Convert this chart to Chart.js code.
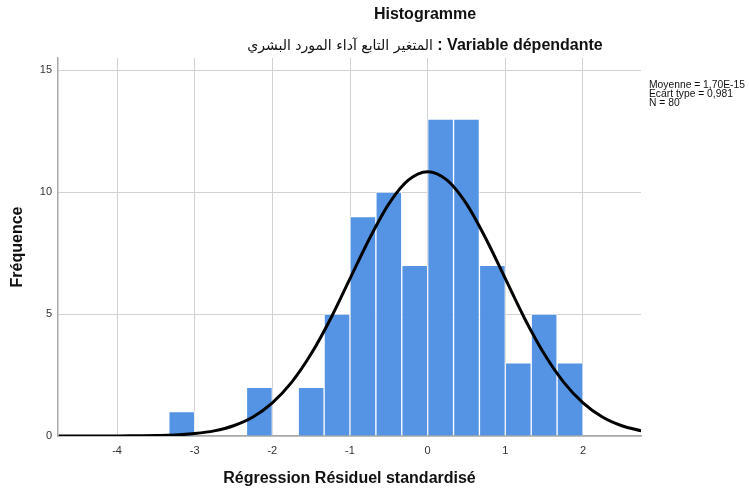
<!DOCTYPE html>
<html>
<head>
<meta charset="utf-8">
<script src="https://cdn.jsdelivr.net/npm/chart.js@4/dist/chart.umd.min.js"></script>
<style>
  html, body { margin: 0; padding: 0; background: #fff; }
  #wrap { position: relative; width: 749px; height: 492px; overflow: hidden; }
  #c { position: absolute; left: 0; top: 0; }
  .t { position: absolute; white-space: nowrap; color: #111; font-family: "Liberation Sans", Arial, sans-serif; }
  #title { left: 425px; top: 6px; transform: translateX(-50%); font-size: 16px; line-height: 16px; font-weight: bold; }
  #subtitle { left: 425px; top: 37px; transform: translateX(-50%); font-size: 16px; line-height: 16px; font-weight: bold; }
  #subtitle .ar { font-weight: normal; font-family: "DejaVu Sans", "Noto Sans", sans-serif; font-size: 14px; }
  #stats { left: 649px; top: 80px; font-size: 10.3px; line-height: 9px; color: #111; }
</style>
</head>
<body>
<div id="wrap">
  <canvas id="c" width="749" height="492"></canvas>
  <div class="t" id="title">Histogramme</div>
  <div class="t" id="subtitle" dir="rtl">Variable dépendante : <span class="ar">المتغير التابع آداء المورد البشري</span></div>
  <div class="t" id="stats">Moyenne = 1,70E-15<br>Ecart type = 0,981<br>N = 80</div>
</div>
<script>
// Histogram bins (centers of bins of width 1/3) and frequencies
const binCenters = [-3.1667, -2.8333, -2.5, -2.1667, -1.8333, -1.5, -1.1667, -0.8333, -0.5, -0.1667, 0.1667, 0.5, 0.8333, 1.1667, 1.5, 1.8333];
const frequencies = [1, 0, 0, 2, 0, 2, 5, 9, 10, 7, 13, 13, 7, 3, 5, 3];

// Normal curve points
const curveX = [-4.75, -4.5, -4.25, -4, -3.75, -3.5, -3.25, -3, -2.75, -2.5, -2.25, -2, -1.75, -1.5, -1.25, -1, -0.75, -0.5, -0.25, 0, 0.25, 0.5, 0.75, 1, 1.25, 1.5, 1.75, 2, 2.25, 2.5, 2.75];
const curveY = [0, 0, 0, 0, 0.01, 0.02, 0.04, 0.10, 0.21, 0.42, 0.78, 1.36, 2.21, 3.37, 4.81, 6.45, 8.09, 9.52, 10.49, 10.84, 10.49, 9.52, 8.09, 6.45, 4.81, 3.37, 2.21, 1.36, 0.78, 0.42, 0.21];

const xTicks = [-4, -3, -2, -1, 0, 1, 2];
const yTicks = [0, 5, 10, 15];

const xTitle = "Régression Résiduel standardisé";
const yTitle = "Fréquence";

Chart.defaults.font.family = '"Liberation Sans", Arial, sans-serif';
Chart.defaults.color = '#333';

const barData = binCenters.map((x, i) => ({ x: x, y: frequencies[i] }));
const lineData = curveX.map((x, i) => ({ x: x, y: curveY[i] }));

new Chart(document.getElementById('c'), {
  type: 'bar',
  data: {
    datasets: [
      {
        type: 'line',
        data: lineData,
        borderColor: '#000',
        borderWidth: 3,
        pointRadius: 0,
        fill: false,
        cubicInterpolationMode: 'monotone',
        order: 0
      },
      {
        type: 'bar',
        data: barData,
        backgroundColor: '#5594e4',
        borderColor: 'rgba(255,255,255,0.6)',
        borderWidth: 1,
        barPercentage: 1,
        categoryPercentage: 1,
        order: 1
      }
    ]
  },
  options: {
    responsive: false,
    animation: false,
    events: [],
    layout: { padding: { left: 0, right: 108, top: 58, bottom: 0 } },
    plugins: { legend: { display: false }, tooltip: { enabled: false }, title: { display: false } },
    scales: {
      x: {
        type: 'linear',
        min: -4.76,
        max: 2.747,
        offset: false,
        afterFit: s => { s.height = 56; },
        afterBuildTicks: s => { s.ticks = xTicks.map(v => ({ value: v })); },
        ticks: { font: { size: 11 }, color: '#333', padding: 8, maxRotation: 0, includeBounds: false },
        grid: { color: '#d2d2d2', lineWidth: 1, drawTicks: false, offset: false },
        border: { display: true, color: '#a8a8a8', width: 1.5 },
        title: { display: true, text: xTitle, font: { size: 16, weight: 'bold' }, color: '#111', padding: { top: 0, bottom: 4 } }
      },
      y: {
        type: 'linear',
        min: 0,
        max: 15.5,
        afterFit: s => { s.width = 58; },
        afterBuildTicks: s => { s.ticks = yTicks.map(v => ({ value: v })); },
        ticks: { font: { size: 11 }, color: '#333', padding: 6, includeBounds: false },
        grid: { color: '#d2d2d2', lineWidth: 1, drawTicks: false },
        border: { display: true, color: '#a8a8a8', width: 1.5 },
        title: { display: true, text: yTitle, font: { size: 16, weight: 'bold' }, color: '#111', padding: { top: 8, bottom: 0 } }
      }
    }
  }
});
</script>
</body>
</html>
